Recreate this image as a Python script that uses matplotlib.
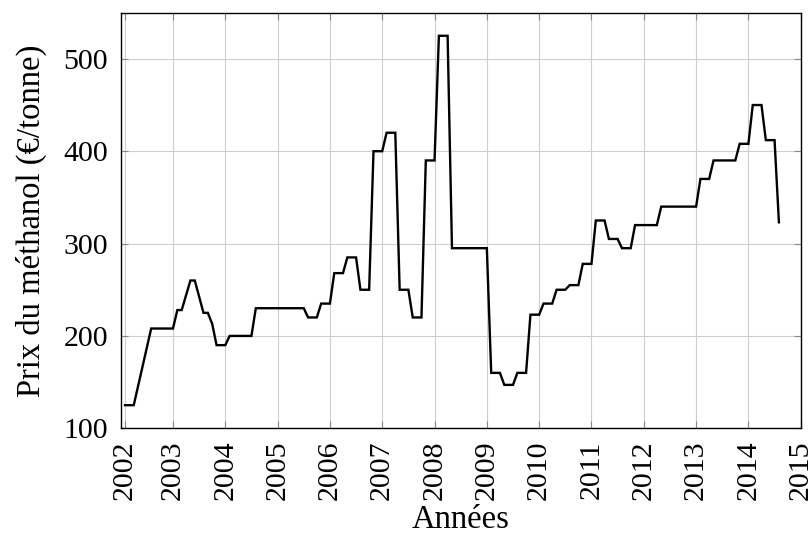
import numpy as np
import matplotlib.pyplot as plt

plt.rcParams['font.family'] = ['Liberation Serif', 'DejaVu Serif']

# monthly methanol contract price, euro per tonne (gaps where no quote)
months = [
    '2002-01', '2002-02', '2002-03', '2002-07', '2002-08', '2002-09',
    '2002-10', '2002-11', '2002-12',
    '2003-01', '2003-02', '2003-04', '2003-05', '2003-07', '2003-08',
    '2003-09', '2003-10', '2003-11', '2003-12',
    '2004-01', '2004-02', '2004-03', '2004-04', '2004-05', '2004-06',
    '2004-07', '2004-08', '2004-09', '2004-10', '2004-11', '2004-12',
    '2005-01', '2005-02', '2005-03', '2005-04', '2005-05', '2005-06',
    '2005-07', '2005-08', '2005-09', '2005-10', '2005-11', '2005-12',
    '2006-01', '2006-02', '2006-03', '2006-04', '2006-05', '2006-06',
    '2006-07', '2006-08', '2006-09', '2006-10', '2006-11', '2006-12',
    '2007-01', '2007-02', '2007-03', '2007-04', '2007-05', '2007-06',
    '2007-07', '2007-08', '2007-09', '2007-10', '2007-11', '2007-12',
    '2008-01', '2008-02', '2008-03', '2008-04', '2008-05', '2008-06',
    '2008-07', '2008-08', '2008-09', '2008-10', '2008-11', '2008-12',
    '2009-01', '2009-02', '2009-03', '2009-04', '2009-05', '2009-06',
    '2009-07', '2009-08', '2009-09', '2009-10', '2009-11', '2009-12',
    '2010-01', '2010-02', '2010-03', '2010-04', '2010-05', '2010-06',
    '2010-07', '2010-08', '2010-09', '2010-10', '2010-11', '2010-12',
    '2011-01', '2011-02', '2011-03', '2011-04', '2011-05', '2011-06',
    '2011-07', '2011-08', '2011-09', '2011-10', '2011-11', '2011-12',
    '2012-01', '2012-02', '2012-03', '2012-04', '2012-05', '2012-06',
    '2012-07', '2012-08', '2012-09', '2012-10', '2012-11', '2012-12',
    '2013-01', '2013-02', '2013-03', '2013-04', '2013-05', '2013-06',
    '2013-07', '2013-08', '2013-09', '2013-10', '2013-11', '2013-12',
    '2014-01', '2014-02', '2014-03', '2014-04', '2014-05', '2014-06',
    '2014-07',
]
prices = [
    125, 125, 125, 208, 208, 208,
    208, 208, 208,
    228, 228, 260, 260, 225, 225,
    213, 190, 190, 190,
    200, 200, 200, 200, 200, 200,
    230, 230, 230, 230, 230, 230,
    230, 230, 230, 230, 230, 230,
    220, 220, 220, 235, 235, 235,
    268, 268, 268, 285, 285, 285,
    250, 250, 250, 400, 400, 400,
    420, 420, 420, 250, 250, 250,
    220, 220, 220, 390, 390, 390,
    525, 525, 525, 295, 295, 295,
    295, 295, 295, 295, 295, 295,
    160, 160, 160, 147, 147, 147,
    160, 160, 160, 223, 223, 223,
    235, 235, 235, 250, 250, 250,
    255, 255, 255, 278, 278, 278,
    325, 325, 325, 305, 305, 305,
    295, 295, 295, 320, 320, 320,
    320, 320, 320, 340, 340, 340,
    340, 340, 340, 340, 340, 340,
    370, 370, 370, 390, 390, 390,
    390, 390, 390, 408, 408, 408,
    450, 450, 450, 412, 412, 412,
    323,
]
year_labels = [str(y) for y in range(2002, 2016)]

# decimal year, each month placed at its end
t = np.array([int(m[:4]) + int(m[5:]) / 12 for m in months])

fig = plt.figure(figsize=(8.12, 5.49), dpi=100)
ax = fig.add_axes([0.1486, 0.2199, 0.8375, 0.757])

ax.plot(t, prices, color='black', lw=1.7, solid_joinstyle='miter')

xt = [t[0]] + list(range(2003, 2016))
ax.set_xticks(xt)
ax.set_xticklabels(year_labels, rotation=90)
ax.set_yticks([100, 200, 300, 400, 500])
ax.set_xlim(2002, 2015)
ax.set_ylim(100, 550)

ax.grid(True, color='#cfcfcf', lw=0.8)
ax.set_axisbelow(True)
ax.tick_params(direction='in', length=5, width=0.8, color='#888888',
               top=True, right=True, labelsize=21.5, pad=9)
for s in ax.spines.values():
    s.set_linewidth(1.0)

ax.set_xlabel('Années', fontsize=23.5, labelpad=3)
ax.set_ylabel('Prix du méthanol (€/tonne)', fontsize=23.5, labelpad=12)

fig.savefig('out.png', dpi=100)
